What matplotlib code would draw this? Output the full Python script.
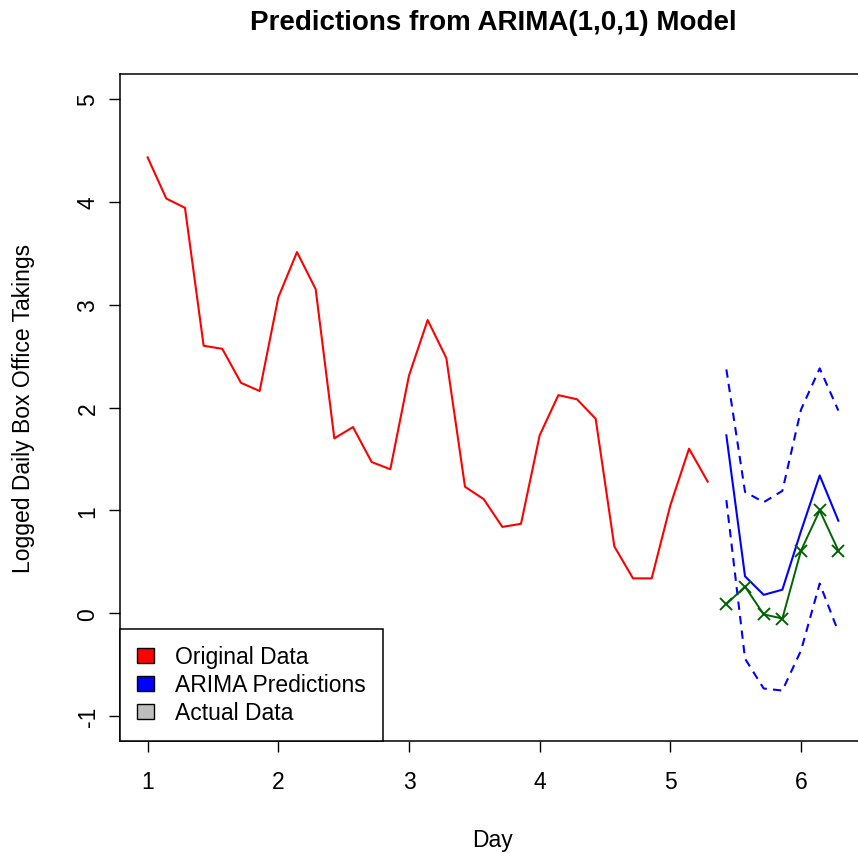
import numpy as np
import matplotlib.pyplot as plt
from matplotlib.patches import Patch

# Logged daily box office takings (one value per day, 7 per unit on the axis)
original = [4.43, 4.03, 3.94, 2.60, 2.57, 2.24, 2.16, 3.07, 3.51, 3.15,
            1.70, 1.81, 1.47, 1.40, 2.31, 2.85, 2.48, 1.23, 1.11, 0.84,
            0.87, 1.73, 2.12, 2.08, 1.89, 0.65, 0.34, 0.34, 1.05, 1.60, 1.28]
pred = [1.73, 0.36, 0.18, 0.23, 0.80, 1.34, 0.90]
upper = [2.37, 1.18, 1.08, 1.19, 1.98, 2.38, 1.97]
lower = [1.10, -0.44, -0.73, -0.75, -0.36, 0.29, -0.18]
actual = [0.09, 0.26, -0.01, -0.05, 0.61, 1.00, 0.61]

x_tick_labels = ["1", "2", "3", "4", "5", "6"]
y_tick_labels = ["-1", "0", "1", "2", "3", "4", "5"]
legend_labels = ["Original Data", "ARIMA Predictions", "Actual Data"]

n = len(original)
x_orig = 1 + np.arange(n) / 7
x_pred = 1 + np.arange(n, n + len(pred)) / 7

plt.rcParams['font.family'] = ['Liberation Sans', 'DejaVu Sans']

fig = plt.figure(figsize=(8.58, 8.54), dpi=100)
ax = fig.add_axes([120 / 858, 1 - 742 / 854, 746 / 858, 667 / 854])

ax.plot(x_orig, original, color="red", lw=1.5)
ax.plot(x_pred, pred, color="blue", lw=1.5)
ax.plot(x_pred, upper, color="blue", lw=1.5, ls=(0, (4, 3)))
ax.plot(x_pred, lower, color="blue", lw=1.5, ls=(0, (4, 3)))
ax.plot(x_pred, actual, color="darkgreen", lw=1.4, marker="x", ms=9, mew=1.4)

# R style limits: data range plus 4%
x_all = np.concatenate([x_orig, x_pred])
xr = x_all.max() - x_all.min()
ax.set_xlim(x_all.min() - 0.04 * xr, x_all.max() + 0.04 * xr)
ax.set_ylim(-1 - 0.24, 5 + 0.24)

ax.set_xticks([int(t) for t in x_tick_labels])
ax.set_xticklabels(x_tick_labels)
ax.set_yticks([int(t) for t in y_tick_labels])
ax.set_yticklabels(y_tick_labels, rotation=90, va="center", ha="center")
ax.tick_params(axis="both", length=8, width=1, labelsize=16.5)
ax.tick_params(axis="y", pad=15)
ax.tick_params(axis="x", pad=13)

for s in ax.spines.values():
    s.set_linewidth(1.1)

fig.text(493 / 858, 1 - 23 / 854, "Predictions from ARIMA(1,0,1) Model",
         ha="center", va="center", fontsize=20, fontweight="bold")
ax.set_xlabel("Day", fontsize=16.5, va="center")
ax.xaxis.set_label_coords(0.5, (742 - 841) / 667)
ax.set_ylabel("Logged Daily Box Office Takings", fontsize=16.5, va="center")
ax.yaxis.set_label_coords((23 - 120) / 746, 0.5)

handles = [Patch(facecolor=c, edgecolor="black", lw=1)
           for c in ["red", "blue", "#bebebe"]]
leg = ax.legend(handles, legend_labels, loc="lower left", bbox_to_anchor=(0, 0),
                borderaxespad=0, fancybox=False, framealpha=1, edgecolor="black",
                fontsize=16.5, handlelength=0.75, handleheight=0.6,
                handletextpad=0.95, labelspacing=0.22, borderpad=0.72)
leg.get_frame().set_linewidth(1.1)

fig.savefig("out.png", dpi=100)
